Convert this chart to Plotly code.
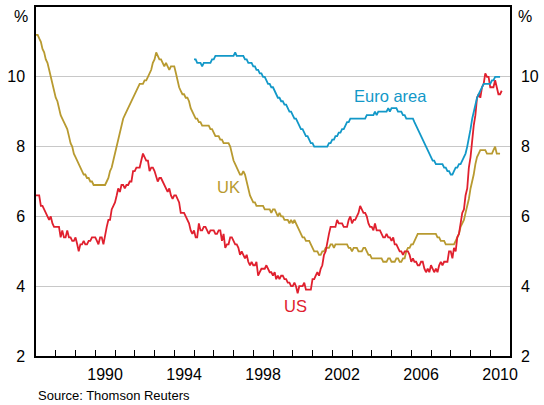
import plotly.graph_objects as go
import pandas as pd

# Unemployment rates, monthly, per cent
us_start = "1987-01-01"
us_rate = [
    6.6, 6.6, 6.6, 6.3, 6.3, 6.2, 6.1, 6.0, 5.9, 6.0, 5.8, 5.7,   # 1987
    5.7, 5.7, 5.7, 5.4, 5.6, 5.4, 5.4, 5.6, 5.4, 5.4, 5.3, 5.3,   # 1988
    5.4, 5.2, 5.0, 5.2, 5.2, 5.3, 5.2, 5.2, 5.3, 5.3, 5.4, 5.4,   # 1989
    5.4, 5.3, 5.2, 5.4, 5.4, 5.2, 5.5, 5.7, 5.9, 5.9, 6.2, 6.3,   # 1990
    6.4, 6.6, 6.8, 6.7, 6.9, 6.9, 6.8, 6.9, 6.9, 7.0, 7.0, 7.3,   # 1991
    7.3, 7.4, 7.4, 7.4, 7.6, 7.8, 7.7, 7.6, 7.6, 7.3, 7.4, 7.4,   # 1992
    7.3, 7.1, 7.0, 7.1, 7.1, 7.0, 6.9, 6.8, 6.7, 6.8, 6.6, 6.5,   # 1993
    6.6, 6.6, 6.5, 6.4, 6.1, 6.1, 6.1, 6.0, 5.9, 5.8, 5.6, 5.5,   # 1994
    5.6, 5.4, 5.4, 5.8, 5.6, 5.6, 5.7, 5.7, 5.6, 5.5, 5.6, 5.6,   # 1995
    5.6, 5.5, 5.5, 5.6, 5.6, 5.3, 5.5, 5.1, 5.2, 5.2, 5.4, 5.4,   # 1996
    5.3, 5.2, 5.2, 5.1, 4.9, 5.0, 4.9, 4.8, 4.9, 4.7, 4.6, 4.7,   # 1997
    4.6, 4.6, 4.7, 4.3, 4.4, 4.5, 4.5, 4.5, 4.6, 4.5, 4.4, 4.4,   # 1998
    4.3, 4.4, 4.2, 4.3, 4.2, 4.3, 4.3, 4.2, 4.2, 4.1, 4.1, 4.0,   # 1999
    4.0, 4.1, 4.0, 3.8, 4.0, 4.0, 4.0, 4.1, 3.9, 3.9, 3.9, 3.9,   # 2000
    4.2, 4.2, 4.3, 4.4, 4.3, 4.5, 4.6, 4.9, 5.0, 5.3, 5.5, 5.7,   # 2001
    5.7, 5.7, 5.7, 5.9, 5.8, 5.8, 5.8, 5.7, 5.7, 5.7, 5.9, 6.0,   # 2002
    5.8, 5.9, 5.9, 6.0, 6.1, 6.3, 6.2, 6.1, 6.1, 6.0, 5.8, 5.7,   # 2003
    5.7, 5.6, 5.8, 5.6, 5.6, 5.6, 5.5, 5.4, 5.4, 5.5, 5.4, 5.4,   # 2004
    5.3, 5.4, 5.2, 5.2, 5.1, 5.0, 5.0, 4.9, 5.0, 5.0, 5.0, 4.9,   # 2005
    4.7, 4.8, 4.7, 4.7, 4.6, 4.6, 4.7, 4.7, 4.5, 4.4, 4.5, 4.4,   # 2006
    4.6, 4.5, 4.4, 4.5, 4.4, 4.6, 4.7, 4.6, 4.7, 4.7, 4.7, 5.0,   # 2007
    5.0, 4.8, 5.1, 5.0, 5.4, 5.5, 5.8, 6.1, 6.2, 6.6, 6.8, 7.4,   # 2008
    7.7, 8.2, 8.6, 8.9, 9.4, 9.5, 9.4, 9.7, 9.8, 10.1, 10.0, 10.0,  # 2009
    9.7, 9.7, 9.7, 9.9, 9.7, 9.5, 9.5, 9.6,                       # 2010
]

uk_start = "1987-01-01"
uk_rate = [
    11.2, 11.2, 11.1, 11.0, 10.8, 10.7, 10.5, 10.4, 10.2, 10.0, 9.8, 9.6,  # 1987
    9.4, 9.3, 9.1, 8.9, 8.8, 8.7, 8.6, 8.5, 8.3, 8.1, 8.0, 7.8,   # 1988
    7.7, 7.6, 7.5, 7.4, 7.3, 7.2, 7.2, 7.1, 7.1, 7.0, 7.0, 6.9,   # 1989
    6.9, 6.9, 6.9, 6.9, 6.9, 6.9, 6.9, 7.0, 7.1, 7.3, 7.4, 7.6,   # 1990
    7.8, 8.0, 8.2, 8.4, 8.6, 8.8, 8.9, 9.0, 9.1, 9.2, 9.3, 9.4,   # 1991
    9.5, 9.6, 9.7, 9.8, 9.8, 9.8, 9.9, 9.9, 10.0, 10.1, 10.2, 10.4,  # 1992
    10.5, 10.7, 10.6, 10.5, 10.5, 10.4, 10.3, 10.4, 10.3, 10.2, 10.3, 10.3,  # 1993
    10.3, 10.1, 9.9, 9.7, 9.6, 9.5, 9.5, 9.4, 9.4, 9.3, 9.1, 9.0,  # 1994
    8.9, 8.8, 8.8, 8.7, 8.7, 8.6, 8.6, 8.6, 8.6, 8.6, 8.5, 8.5,   # 1995
    8.4, 8.3, 8.3, 8.3, 8.2, 8.2, 8.1, 8.1, 8.1, 8.1, 8.0, 7.8,   # 1996
    7.6, 7.5, 7.4, 7.3, 7.2, 7.2, 7.3, 7.2, 7.0, 6.8, 6.6, 6.5,   # 1997
    6.4, 6.4, 6.3, 6.3, 6.3, 6.3, 6.3, 6.2, 6.2, 6.2, 6.2, 6.1,   # 1998
    6.2, 6.2, 6.1, 6.0, 6.1, 6.0, 6.0, 5.9, 5.9, 5.9, 5.8, 5.9,   # 1999
    5.8, 5.9, 5.8, 5.7, 5.6, 5.5, 5.4, 5.4, 5.3, 5.3, 5.3, 5.2,   # 2000
    5.1, 5.0, 5.0, 5.0, 4.9, 4.9, 5.0, 5.0, 5.1, 5.1, 5.1, 5.2,   # 2001
    5.2, 5.1, 5.2, 5.2, 5.2, 5.2, 5.2, 5.2, 5.2, 5.2, 5.1, 5.1,   # 2002
    5.0, 5.1, 5.1, 5.1, 5.0, 5.0, 5.0, 5.1, 5.1, 5.0, 4.9, 4.9,   # 2003
    4.8, 4.8, 4.8, 4.8, 4.8, 4.8, 4.8, 4.7, 4.7, 4.7, 4.8, 4.8,   # 2004
    4.7, 4.7, 4.7, 4.8, 4.8, 4.7, 4.7, 4.8, 4.8, 5.0, 5.1, 5.1,   # 2005
    5.2, 5.2, 5.3, 5.4, 5.5, 5.5, 5.5, 5.5, 5.5, 5.5, 5.5, 5.5,   # 2006
    5.5, 5.5, 5.5, 5.5, 5.4, 5.4, 5.3, 5.3, 5.3, 5.2, 5.2, 5.2,   # 2007
    5.2, 5.2, 5.2, 5.3, 5.4, 5.5, 5.7, 5.8, 5.9, 6.1, 6.3, 6.5,   # 2008
    6.8, 7.0, 7.2, 7.5, 7.7, 7.8, 7.9, 7.9, 7.9, 7.9, 7.8, 7.8,   # 2009
    7.8, 7.8, 7.9, 8.0, 7.8, 7.8, 7.8,                            # 2010
]

euro_start = "1995-01-01"
euro_rate = [
    10.5, 10.5, 10.4, 10.4, 10.4, 10.3, 10.4, 10.4, 10.4, 10.4, 10.4, 10.5,  # 1995
    10.5, 10.6, 10.6, 10.6, 10.6, 10.6, 10.6, 10.6, 10.6, 10.6, 10.6, 10.6,  # 1996
    10.6, 10.7, 10.6, 10.6, 10.6, 10.6, 10.6, 10.5, 10.5, 10.4, 10.4, 10.4,  # 1997
    10.3, 10.3, 10.2, 10.2, 10.1, 10.1, 10.0, 10.0, 9.9, 9.8, 9.8, 9.7,  # 1998
    9.7, 9.6, 9.5, 9.4, 9.4, 9.3, 9.3, 9.2, 9.2, 9.1, 9.0, 9.0,   # 1999
    8.9, 8.8, 8.8, 8.7, 8.6, 8.5, 8.5, 8.4, 8.3, 8.3, 8.2, 8.1,   # 2000
    8.1, 8.0, 8.0, 8.0, 8.0, 8.0, 8.0, 8.0, 8.0, 8.0, 8.1, 8.1,   # 2001
    8.2, 8.2, 8.3, 8.3, 8.4, 8.4, 8.5, 8.5, 8.6, 8.7, 8.7, 8.8,   # 2002
    8.8, 8.8, 8.8, 8.8, 8.8, 8.8, 8.8, 8.8, 8.8, 8.9, 8.9, 8.9,   # 2003
    8.9, 8.9, 9.0, 8.9, 9.0, 9.0, 9.0, 9.0, 9.0, 9.0, 9.1, 9.0,   # 2004
    9.1, 9.1, 9.1, 9.1, 9.0, 9.0, 9.0, 8.9, 8.9, 8.8, 8.8, 8.8,   # 2005
    8.8, 8.8, 8.7, 8.6, 8.5, 8.4, 8.3, 8.2, 8.1, 8.0, 7.9, 7.8,   # 2006
    7.7, 7.6, 7.6, 7.5, 7.5, 7.5, 7.5, 7.5, 7.4, 7.4, 7.3, 7.3,   # 2007
    7.2, 7.2, 7.3, 7.4, 7.4, 7.5, 7.5, 7.6, 7.7, 7.8, 8.0, 8.2,   # 2008
    8.5, 8.8, 9.0, 9.2, 9.4, 9.5, 9.6, 9.7, 9.8, 9.8, 9.8, 9.8,   # 2009
    9.8, 9.9, 9.9, 10.0, 10.0, 10.0, 10.0,                        # 2010
]

year_labels = ["1990", "1994", "1998", "2002", "2006", "2010"]
y_ticks = [2, 4, 6, 8, 10, 12]
y_labels = ["2", "4", "6", "8", "10", ""]

RED = "#e0202e"
BLUE = "#1298c8"
GOLD = "#b89a30"
FONT = "Liberation Sans, Arial, sans-serif"
X_RANGE = ["1987-01-01", "2011-01-01"]

fig = go.Figure()

fig.add_trace(go.Scatter(
    x=pd.date_range(uk_start, periods=len(uk_rate), freq="MS"),
    y=uk_rate, mode="lines", name="UK",
    line=dict(color=GOLD, width=1.8)
))
# euro area drawn on the overlay axes (same ranges) so the right axis and
# the mid-year labels get drawn
fig.add_trace(go.Scatter(
    x=pd.date_range(euro_start, periods=len(euro_rate), freq="MS"),
    y=euro_rate, mode="lines", name="Euro area",
    line=dict(color=BLUE, width=1.8), xaxis="x2", yaxis="y2"
))
fig.add_trace(go.Scatter(
    x=pd.date_range(us_start, periods=len(us_rate), freq="MS"),
    y=us_rate, mode="lines", name="US",
    line=dict(color=RED, width=1.8)
))

# ticks on year boundaries, labels centred mid-year
label_pos = [f"{y}-07-01" for y in year_labels]
year_edges = [f"{y}-01-01" for y in range(1987, 2012)]

fig.update_layout(
    width=544, height=405,
    margin=dict(l=36, r=34, t=7, b=49, autoexpand=False),
    paper_bgcolor="white", plot_bgcolor="white",
    showlegend=False,
    font=dict(family=FONT, size=16, color="black"),
    xaxis=dict(
        type="date", range=X_RANGE, automargin=False,
        tickmode="array", tickvals=year_edges, showticklabels=False,
        ticks="inside", ticklen=6, tickcolor="black", tickwidth=1,
        showgrid=False, zeroline=False,
        showline=True, linecolor="black", linewidth=1.5, mirror=True,
    ),
    xaxis2=dict(
        type="date", range=X_RANGE, overlaying="x", side="bottom",
        anchor="y2", automargin=False,
        tickmode="array", tickvals=label_pos, ticktext=year_labels,
        ticks="", ticklabelstandoff=7,
        showgrid=False, zeroline=False, showline=False,
    ),
    yaxis=dict(
        range=[2, 12], tickmode="array", tickvals=y_ticks, ticktext=y_labels,
        ticks="", ticklabelstandoff=6, automargin=False,
        showgrid=True, gridcolor="#c8c8c8", gridwidth=1, zeroline=False,
        showline=True, linecolor="black", linewidth=1.5,
    ),
    yaxis2=dict(
        range=[2, 12], overlaying="y", side="right", anchor="x2",
        automargin=False,
        tickmode="array", tickvals=y_ticks, ticktext=y_labels,
        ticks="", ticklabelstandoff=6,
        showgrid=False, zeroline=False,
        showline=True, linecolor="black", linewidth=1.5,
    ),
)

annotations = [
    dict(text="%", xref="paper", yref="y", x=0, y=12, xanchor="right",
         yanchor="top", xshift=-6, yshift=1, showarrow=False),
    dict(text="%", xref="paper", yref="y", x=1, y=12, xanchor="left",
         yanchor="top", xshift=6, yshift=1, showarrow=False),
    dict(text="Euro area", x="2003-01-01", y=9.44, xanchor="left",
         showarrow=False, font=dict(color=BLUE, size=16.5)),
    dict(text="UK", x="1996-10-01", y=6.83, showarrow=False,
         font=dict(color=GOLD, size=16.5)),
    dict(text="US", x="2000-03-01", y=3.42, showarrow=False,
         font=dict(color=RED, size=16.5)),
    dict(text="Source: Thomson Reuters", xref="paper", yref="paper",
         x=0, y=-0.112, xanchor="left", yanchor="middle", showarrow=False,
         font=dict(size=13)),
]
fig.update_layout(annotations=annotations)

# page body margin would shift the figure by 8px
fig.write_html("out.html", config={"displayModeBar": False},
               post_script="document.body.style.margin='0';")
